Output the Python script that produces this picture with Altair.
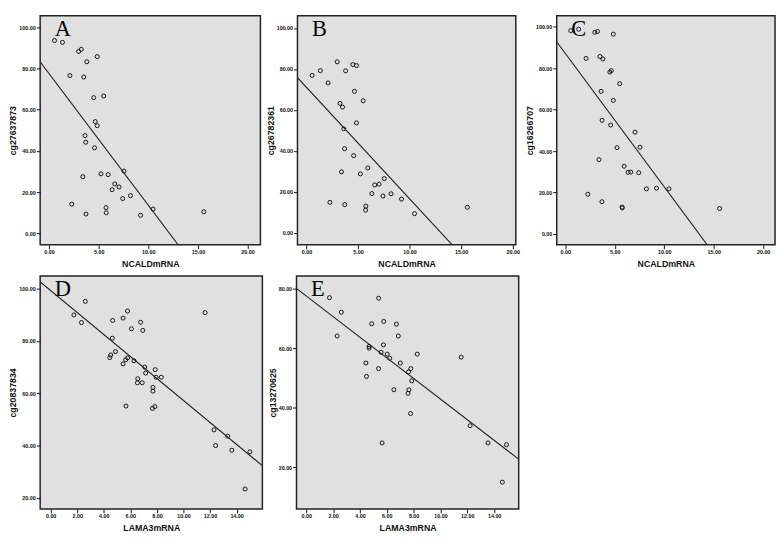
import altair as alt
import pandas as pd

# ---- data ----
ncald_x = [0.55, 1.35, 2.1, 2.28, 2.98, 3.25, 3.4, 3.5, 3.62, 3.7, 3.72, 3.8, 4.5, 4.58, 4.65,
           4.85, 4.85, 5.23, 5.5, 5.74, 5.76, 5.95, 6.35, 6.62, 7.05, 7.42, 7.55, 8.2, 9.22, 10.48, 15.6]
cg27637873 = [93.5, 92.6, 76.5, 14.2, 88.2, 89.2, 27.5, 75.8, 47.4, 44.2, 9.4, 83.2, 65.8, 41.5, 54.2,
              85.7, 52.2, 28.9, 66.6, 12.5, 10.0, 28.5, 21.2, 24.0, 22.5, 16.9, 30.2, 18.3, 8.8, 11.8, 10.5]
cg26782361 = [76.9, 79.2, 73.2, 14.9, 83.5, 63.2, 29.8, 61.4, 50.8, 41.1, 13.8, 79.1, 82.2, 37.7, 69.1,
              81.7, 53.7, 28.8, 64.5, 11.1, 13.1, 31.7, 19.2, 23.4, 23.8, 18.0, 26.5, 19.1, 16.5, 9.4, 12.5]
cg16266707 = [98.2, 98.9, 84.8, 19.2, 97.4, 97.8, 35.9, 85.7, 68.9, 15.6, 54.9, 84.5, 78.2, 52.6, 78.9,
              96.5, 64.5, 41.7, 72.6, 13.0, 12.6, 32.7, 29.8, 29.9, 49.2, 29.6, 41.9, 21.8, 22.1, 21.8, 12.3]

lama_x_d = [1.75, 2.32, 2.61, 4.45, 4.52, 4.64, 4.67, 4.88, 5.45, 5.45, 5.65, 5.67, 5.79, 5.79, 6.08,
            6.27, 6.53, 6.56, 6.77, 6.89, 6.94, 7.08, 7.15, 7.66, 7.70, 7.70, 7.85, 7.87, 7.94, 8.33,
            11.63, 12.30, 12.42, 13.33, 13.64, 14.64, 15.0]
cg20837834 = [89.9, 87.0, 95.1, 73.6, 74.6, 81.0, 87.8, 75.9, 88.7, 71.2, 72.8, 55.1, 91.4, 73.5, 84.6,
              72.4, 64.0, 65.5, 87.1, 64.0, 84.0, 70.0, 67.7, 54.2, 62.2, 60.8, 54.9, 69.0, 66.1, 66.1,
              90.8, 46.0, 40.0, 43.6, 38.2, 23.4, 37.6]

lama_x_e = [1.73, 2.30, 2.61, 4.44, 4.49, 4.68, 4.68, 4.87, 5.39, 5.39, 5.58, 5.65, 5.75, 5.77, 6.03,
            6.22, 6.53, 6.72, 6.86, 7.01, 7.58, 7.62, 7.65, 7.77, 7.79, 7.86, 8.27, 11.54, 12.21, 13.54,
            14.61, 14.92]
cg13270625 = [77.1, 64.2, 72.2, 55.1, 50.6, 60.7, 60.1, 68.3, 76.9, 53.2, 58.7, 28.2, 61.2, 69.1, 58.1,
              56.7, 46.1, 68.2, 64.2, 55.1, 44.9, 52.1, 46.1, 38.1, 53.2, 49.1, 58.1, 57.1, 34.0, 28.2,
              15.0, 27.6]

letters = ["A", "B", "C", "D", "E"]
x_titles = ["NCALDmRNA", "NCALDmRNA", "NCALDmRNA", "LAMA3mRNA", "LAMA3mRNA"]
y_titles = ["cg27637873", "cg26782361", "cg16266707", "cg20837834", "cg13270625"]
ncald_ticks = [0, 5, 10, 15, 20]
lama_ticks = [0, 2, 4, 6, 8, 10, 12, 14]
y_ticks_abc = [0, 20, 40, 60, 80, 100]
y_ticks_d = [20, 40, 60, 80, 100]
y_ticks_e = [20, 40, 60, 80]

FONT = "Liberation Sans"


def panel(xs, ys, letter, xt, yt, xdom, ydom, xticks, yticks, w, h):
    df = pd.DataFrame({"x": xs, "y": ys})
    xsc = alt.Scale(domain=xdom, nice=False, zero=False)
    ysc = alt.Scale(domain=ydom, nice=False, zero=False)
    xax = alt.Axis(values=xticks, format=".2f", title=xt)
    yax = alt.Axis(values=yticks, format=".2f", title=yt)
    base = alt.Chart(df)
    pts = base.mark_point(shape="circle", filled=False, size=17, strokeWidth=1,
                          color="#111111", opacity=1).encode(
        x=alt.X("x:Q", scale=xsc, axis=xax),
        y=alt.Y("y:Q", scale=ysc, axis=yax),
    )
    line = base.transform_regression("x", "y", extent=[xdom[0] - 1, xdom[1] + 1]).mark_line(
        color="#222222", strokeWidth=1.1, clip=True).encode(
        x=alt.X("x:Q", scale=xsc, axis=xax),
        y=alt.Y("y:Q", scale=ysc, axis=yax),
    )
    txt = alt.Chart(pd.DataFrame({"t": [letter]})).mark_text(
        font="Liberation Serif", fontSize=23, align="left", baseline="top", color="#000000"
    ).encode(x=alt.value(15), y=alt.value(3), text="t:N")
    return alt.layer(pts, line, txt).properties(width=w, height=h)


pA = panel(ncald_x, cg27637873, letters[0], x_titles[0], y_titles[0],
           [-0.9, 21.3], [-5.5, 105.5], ncald_ticks, y_ticks_abc, 226, 235)
pB = panel(ncald_x, cg26782361, letters[1], x_titles[1], y_titles[1],
           [-0.87, 20.3], [-5.8, 106], ncald_ticks, y_ticks_abc, 224, 235)
pC = panel(ncald_x, cg16266707, letters[2], x_titles[2], y_titles[2],
           [-0.87, 21.2], [-5.2, 105.4], ncald_ticks, y_ticks_abc, 224, 235)
pD = panel(lama_x_d, cg20837834, letters[3], x_titles[3], y_titles[3],
           [-0.79, 15.94], [15.8, 104.8], lama_ticks, y_ticks_d, 228, 239)
pE = panel(lama_x_e, cg13270625, letters[4], x_titles[4], y_titles[4],
           [-0.73, 15.83], [6.0, 84.4], lama_ticks, y_ticks_e, 228, 239)

top = alt.hconcat(pA, pB, pC, spacing=4)
bottom = alt.hconcat(pD, pE, spacing=4)

chart = alt.vconcat(top, bottom, spacing=5).properties(
    padding=0, background="white"
).configure_view(
    fill="#e0e0e0", stroke="#222222", strokeWidth=1.5
).configure_axis(
    grid=False, domain=False,
    tickColor="#111111", tickSize=4, tickWidth=1,
    labelFont=FONT, labelFontSize=5.5, labelFontWeight="bold", labelColor="#111111", labelPadding=1,
    titleFont=FONT, titleFontSize=9, titleFontWeight="bold", titleColor="#111111",
).configure_axisX(titlePadding=5).configure_axisY(titlePadding=1)

chart.save("out.html", embed_options={"renderer": "svg", "actions": False})
